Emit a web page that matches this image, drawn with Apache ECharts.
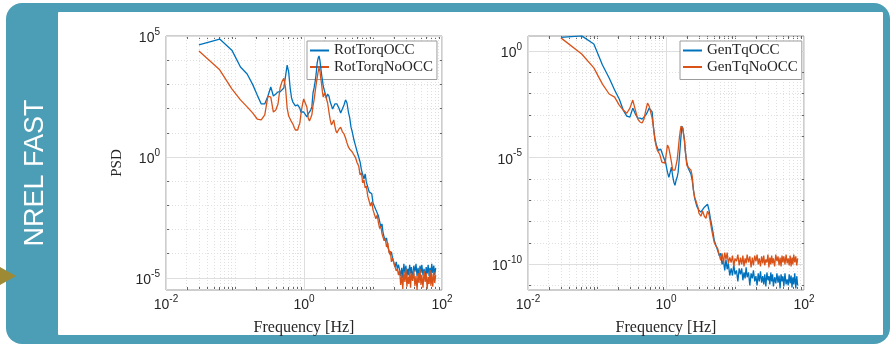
<!DOCTYPE html>
<html><head><meta charset="utf-8">
<script src="https://cdn.jsdelivr.net/npm/echarts@6/dist/echarts.min.js"></script>
<style>html,body{margin:0;padding:0;background:#fff}#c{width:893px;height:346px}</style>
</head><body><div id="c"></div><script>
// Frequency grid [Hz], shared by all four PSD curves
const freqHz = [
 0.03,0.06,0.09,0.12,0.15,0.18,0.21,0.24,0.27,0.30,0.33,0.36,0.39,0.42,0.45,0.48,0.51,0.54,0.57,0.60,0.63,0.66,0.69,0.72,0.75,0.78,0.81,0.84,0.87,0.90,0.93,0.96,0.99,
 1.05,1.1,1.15,1.2,1.25,1.3,1.35,1.4,1.45,1.5,1.55,1.6,1.65,1.7,1.75,1.8,1.85,1.9,
 2.0,2.1,2.2,2.3,2.4,2.5,2.6,2.7,2.8,2.9,3.0,
 3.2,3.4,3.6,3.8,4.0,4.2,4.4,4.6,4.8,5.0,
 5.3,5.6,5.9,6.2,6.5,6.8,7.1,7.4,7.7,8.0,
 8.4,8.8,9.2,9.6,10,
 10.5,11,11.5,12,12.5,13,13.5,14,14.5,15,
 15.7,16.4,17.1,17.8,18.5,19.3,20.1,20.9,21.7,22.5,23.4,
 24.3,25.2,26.1,27,28,29,30,31,32,33,34,35,36,
 37.5,39,40.5,42,43.5,45,46.5,48,49.5,51,
 53,55,57,59,61,63,65,67,69,71,
 73.5,76,78.5,81
];
const rotTorqOCC = [
 4.3e4,7.5e4,2.6e4,5.2e3,2.7e3,1.0e3,360,155,155,330,780,330,400,490,490,440,710,2.2e3,6.3e3,3.2e3,710,275,186,170,129,117,141,141,105,72,66,87,72,
 60,45,60,72,87,117,440,710,1.3e3,2.7e3,7.6e3,1.2e4,1.5e4,1.0e4,4.8e3,2.5e3,1.5e3,850,
 490,275,400,330,186,155,96,105,155,186,155,
 105,66,79,141,230,170,72,41,17,11,
 5.0,2.8,1.6,1.0,0.62,0.29,0.29,0.123,0.199,0.093,
 0.084,0.036,0.033,0.030,0.0126,
 0.0138,0.0065,0.0078,0.0036,0.0030,0.0013,0.0017,7.2e-4,8.0e-4,3.4e-4,
 4.5e-4,1.9e-4,1.7e-4,8.9e-5,1.2e-4,6.1e-5,6.7e-5,2.8e-5,4.6e-5,2.4e-5,3.5e-5,
 3.5e-5,1.2e-5,2.6e-5,1.0e-5,3.8e-5,1.6e-5,3.2e-5,1.1e-5,2.4e-5,1.3e-5,3.5e-5,1.5e-5,2.8e-5,
 9.1e-6,3.2e-5,1.8e-5,3.8e-5,1.2e-5,2.6e-5,1.1e-5,3.2e-5,1.6e-5,3.5e-5,
 1.3e-5,2.4e-5,1.0e-5,2.8e-5,1.5e-5,3.5e-5,1.2e-5,2.6e-5,1.1e-5,3.8e-5,
 1.6e-5,3.2e-5,1.3e-5,2.6e-5
];
const rotTorqNoOCC = [
 2.4e4,4.0e3,650,230,117,66,37,34,55,330,300,72,87,155,710,1.3e3,1.8e3,710,105,49,37,28,23,17,13,11,13,19,25,55,105,170,250,
 300,117,41,31,41,55,129,230,490,1.0e3,1.8e3,3.2e3,4.8e3,3.6e3,1.8e3,1.0e3,490,300,
 440,490,170,72,34,21,19,34,19,12,9.8,
 14,17,11,8.9,6.1,3.8,2.6,2.1,1.8,1.6,
 1.2,0.91,0.56,0.43,0.18,0.22,0.084,0.112,0.052,0.063,
 0.024,0.022,0.0094,0.0138,0.0065,
 0.0065,0.0028,0.0040,0.0019,0.0011,0.0014,6.6e-4,6.6e-4,3.4e-4,4.5e-4,
 1.9e-4,2.8e-4,1.07e-4,1.3e-4,4.6e-5,6.7e-5,4.2e-5,4.6e-5,1.95e-5,2.4e-5,1.3e-5,
 2.1e-5,5.1e-6,1.3e-5,3.5e-6,1.8e-5,6.8e-6,2.4e-5,4.3e-6,1.1e-5,5.6e-6,1.95e-5,3.9e-6,1.5e-5,
 7.5e-6,2.1e-5,4.7e-6,1.2e-5,3.2e-6,1.6e-5,6.2e-6,2.4e-5,5.1e-6,1.3e-5,
 3.9e-6,1.95e-5,6.8e-6,1.6e-5,3.5e-6,1.1e-5,5.6e-6,2.1e-5,4.7e-6,1.5e-5,
 4.3e-6,1.8e-5,6.2e-6,1.3e-5
];
const genTqOCC = [
 4.3,5.1,2.1,0.22,0.054,0.0148,0.0056,0.0017,8.9e-4,7.9e-4,0.0021,0.0011,7.1e-4,7.1e-4,6.4e-4,7.9e-4,1.0e-3,0.0014,0.0021,0.0026,0.0014,2.4e-4,8.3e-5,4.3e-5,2.8e-5,2.2e-5,2.0e-5,2.5e-5,1.8e-5,1.3e-5,9.5e-6,7.6e-6,5.5e-6,
 2.1e-6,1.2e-6,2.1e-6,3.6e-6,1.35e-6,7.1e-7,5.1e-7,8.7e-7,1.2e-6,2.1e-6,7.6e-6,2.8e-5,1.0e-4,3.0e-4,2.4e-4,1.26e-4,6.6e-5,2.2e-5,
 6.2e-6,3.2e-6,2.6e-6,1.7e-6,8.7e-7,3.0e-7,1.26e-7,8.1e-8,5.2e-8,4.3e-8,3.5e-8,
 2.8e-8,2.8e-8,4.8e-8,5.2e-8,6.6e-8,3.5e-8,1.45e-8,6.8e-9,3.2e-9,1.35e-9,
 7.8e-10,4.6e-10,2.6e-10,3.3e-10,1.0e-10,1.55e-10,5.2e-11,1.7e-10,5.9e-11,1.12e-10,
 3.0e-11,6.5e-11,3.0e-11,1.0e-10,3.4e-11,
 5.2e-11,1.6e-11,6.5e-11,3.4e-11,6.5e-11,1.8e-11,4.2e-11,2.2e-11,7.2e-11,2.5e-11,
 4.2e-11,1.03e-11,3.8e-11,2.2e-11,5.2e-11,1.6e-11,2.8e-11,1.03e-11,3.8e-11,1.6e-11,4.7e-11,
 1.4e-11,2.8e-11,1.15e-11,3.4e-11,9.3e-12,4.2e-11,1.8e-11,2.8e-11,1.15e-11,4.2e-11,1.6e-11,3.4e-11,9.3e-12,
 2.5e-11,1.3e-11,3.8e-11,1.4e-11,3.0e-11,7.4e-12,3.4e-11,1.6e-11,2.8e-11,9.3e-12,
 3.8e-11,1.15e-11,2.0e-11,1.03e-11,3.4e-11,1.3e-11,3.0e-11,8.3e-12,2.5e-11,1.15e-11,
 3.8e-11,7.4e-12,2.8e-11,1.03e-11
];
const genTqNoOCC = [
 4.1,0.72,0.16,0.028,0.0096,0.0069,0.0029,0.0017,0.0012,0.0021,0.0050,0.0017,6.4e-4,4.7e-4,4.2e-4,6.4e-4,0.0017,0.0036,0.0026,0.0021,7.1e-4,2.4e-4,6.6e-5,3.5e-5,2.2e-5,1.8e-5,1.45e-5,9.5e-6,6.2e-6,5.5e-6,7.6e-6,5.5e-6,9.5e-6,
 3.9e-5,2.8e-5,1.3e-5,6.2e-6,2.6e-6,2.1e-6,2.6e-6,3.2e-6,7.6e-6,2.2e-5,6.6e-5,1.6e-4,3.0e-4,3.7e-4,2.4e-4,1.15e-4,6.6e-5,2.2e-5,
 4.5e-6,3.6e-6,4.0e-6,2.6e-6,1.35e-6,3.0e-7,1.4e-7,1.0e-7,8.1e-8,4.8e-8,2.5e-8,
 1.8e-8,3.1e-8,1.8e-8,1.45e-8,3.1e-8,2.2e-8,9.3e-9,4.0e-9,2.0e-9,1.07e-9,
 7.1e-10,5.6e-10,4.6e-10,1.55e-10,3.3e-10,1.12e-10,3.6e-10,1.7e-10,3.6e-10,1.12e-10,
 2.1e-10,1.23e-10,2.6e-10,8.1e-11,1.9e-10,
 1.4e-10,2.9e-10,9.0e-11,2.1e-10,1.0e-10,2.6e-10,8.1e-11,1.9e-10,1.12e-10,2.9e-10,
 1.23e-10,2.4e-10,7.2e-11,2.1e-10,9.0e-11,2.6e-10,1.4e-10,2.9e-10,1.0e-10,1.9e-10,8.1e-11,
 2.4e-10,1.12e-10,2.6e-10,9.0e-11,1.7e-10,1.23e-10,2.9e-10,7.2e-11,2.1e-10,1.0e-10,2.6e-10,1.12e-10,1.9e-10,
 8.1e-11,2.9e-10,1.4e-10,2.4e-10,9.0e-11,2.1e-10,8.1e-11,2.6e-10,1.23e-10,2.4e-10,
 1.0e-10,2.9e-10,1.12e-10,1.9e-10,9.0e-11,2.6e-10,8.1e-11,2.1e-10,1.0e-10,2.9e-10,
 1.23e-10,2.4e-10,9.0e-11,1.9e-10
];
// tick exponents (labels are 10^n)
const xTickExp = [-2, 0, 2];
const yTickExpLeft = [-5, 0, 5];
const yTickExpRight = [-10, -5, 0];
const seriesNamesLeft = ['RotTorqOCC', 'RotTorqNoOCC'];
const seriesNamesRight = ['GenTqOCC', 'GenTqNoOCC'];

const SERIF = 'Liberation Serif, Times New Roman, serif';
const SANS = 'Liberation Sans, Arial, Helvetica, sans-serif';
const INK = '#262626', BOX = '#9c9c9c', TEAL = '#4c9eb6', GOLD = '#9e8a35';
const BLUE = '#0072BD', ORANGE = '#D95319';

const toPts = vals => freqHz.map((f, i) => [Math.log10(f), Math.log10(vals[i])]);
const pow10 = v => '{b|10}{s|' + v + '}';
const rich = {
  b: {fontFamily: SANS, fontSize: 14, color: INK, lineHeight: 18, verticalAlign: 'bottom'},
  s: {fontFamily: SANS, fontSize: 10, color: INK, lineHeight: 9, verticalAlign: 'top'}
};
function xMinor() {
  const out = [];
  for (let d = -2; d < 2; d++) for (let k = 1; k < 10; k++) {
    const v = d + Math.log10(k);
    if (!xTickExp.includes(v)) out.push(v);
  }
  return out;
}
function yMinor(lo, hi, majors) {
  const out = [];
  for (let v = Math.ceil(lo); v <= Math.floor(hi); v++) if (!majors.includes(v)) out.push(v);
  return out;
}
const L = {ymin: -5.5, ymax: 5};
const R = {ymin: -11.2, ymax: 0.7};
const yMinL = yMinor(L.ymin, L.ymax, yTickExpLeft);
const yMinR = yMinor(R.ymin, R.ymax, yTickExpRight);
const xMin = xMinor();

const majStyle = {color: '#dedede', width: 1, type: 'solid'};
const minStyle = {color: '#e0e0e0', width: 1, type: [1, 2]};
function gridSeries(xi, yi, yMaj, yMinr) {
  const data = [].concat(
    xTickExp.map(v => ({xAxis: v, lineStyle: majStyle})),
    xMin.map(v => ({xAxis: v, lineStyle: minStyle})),
    yMaj.map(v => ({yAxis: v, lineStyle: majStyle})),
    yMinr.map(v => ({yAxis: v, lineStyle: minStyle}))
  );
  return {type: 'line', xAxisIndex: xi, yAxisIndex: yi, data: [], silent: true, z: 1,
    markLine: {silent: true, symbol: ['none', 'none'], label: {show: false}, animation: false, z: 1, data}};
}
function xAx(gi, pos, withLabels) {
  return {type: 'value', gridIndex: gi, min: -2, max: 2, position: pos,
    axisLine: {show: false, onZero: false}, splitLine: {show: false},
    axisTick: {show: true, inside: true, length: 3, customValues: xTickExp.concat(xMin), lineStyle: {color: '#666'}},
    axisLabel: withLabels ? {show: true, customValues: xTickExp, formatter: pow10, rich, margin: 4} : {show: false},
    name: withLabels ? 'Frequency [Hz]' : '', nameLocation: 'middle', nameGap: 30,
    nameTextStyle: {fontFamily: SERIF, fontSize: 16, color: INK}};
}
function yAx(gi, pos, r, maj, minr, withLabels, name) {
  return {type: 'value', gridIndex: gi, min: r.ymin, max: r.ymax, position: pos,
    axisLine: {show: false, onZero: false}, splitLine: {show: false},
    axisTick: {show: true, inside: true, length: 3, customValues: maj.concat(minr), lineStyle: {color: '#666'}},
    axisLabel: withLabels ? {show: true, customValues: maj, formatter: pow10, rich, margin: 6} : {show: false},
    name: name || '', nameLocation: 'middle', nameGap: 41,
    nameTextStyle: {fontFamily: SERIF, fontSize: 15, color: INK}};
}
function lineSeries(name, vals, xi, yi, color) {
  return {type: 'line', name, data: toPts(vals), xAxisIndex: xi, yAxisIndex: yi, z: 10,
    showSymbol: false, symbol: 'none', lineStyle: {width: 1.3, color}, itemStyle: {color}, clip: true, animation: false};
}
function legendAt(left, names) {
  return {data: names, left, top: 41, orient: 'vertical', icon: 'rect', itemWidth: 19, itemHeight: 2,
    itemGap: 1.5, padding: [2, 4, 5, 3], backgroundColor: '#fff', borderColor: BOX, borderWidth: 1,
    selectedMode: false, textStyle: {fontFamily: SERIF, fontSize: 15, color: INK, lineHeight: 15}};
}

const chart = echarts.init(document.getElementById('c'));
chart.setOption({
  animation: false,
  backgroundColor: '#fff',
  graphic: [
    {type: 'rect', z: -10, shape: {x: 6, y: 3, width: 884, height: 341, r: 16}, style: {fill: TEAL}},
    {type: 'rect', z: -9, shape: {x: 58, y: 12, width: 825, height: 323, r: 1}, style: {fill: '#fff'}},
    {type: 'polygon', z: -9, shape: {points: [[0, 267], [16, 276], [0, 285]]}, style: {fill: GOLD}},
    {type: 'text', z: -8, x: 36, y: 173, rotation: Math.PI / 2,
      style: {text: 'NREL FAST', fill: '#fff', fontSize: 27, fontFamily: SANS, align: 'center', verticalAlign: 'middle'}}
  ],
  grid: [
    {left: 166, top: 36, width: 276, height: 254, show: true, borderColor: BOX, borderWidth: 1, backgroundColor: 'transparent'},
    {left: 528, top: 36, width: 276, height: 254, show: true, borderColor: BOX, borderWidth: 1, backgroundColor: 'transparent'}
  ],
  xAxis: [xAx(0, 'bottom', true), xAx(0, 'top', false), xAx(1, 'bottom', true), xAx(1, 'top', false)],
  yAxis: [
    yAx(0, 'left', L, yTickExpLeft, yMinL, true, 'PSD'), yAx(0, 'right', L, yTickExpLeft, yMinL, false),
    yAx(1, 'left', R, yTickExpRight, yMinR, true), yAx(1, 'right', R, yTickExpRight, yMinR, false)
  ],
  legend: [legendAt(307, seriesNamesLeft), legendAt(680, seriesNamesRight)],
  series: [
    gridSeries(0, 0, yTickExpLeft, yMinL),
    gridSeries(2, 2, yTickExpRight, yMinR),
    lineSeries(seriesNamesLeft[0], rotTorqOCC, 0, 0, BLUE),
    lineSeries(seriesNamesLeft[1], rotTorqNoOCC, 0, 0, ORANGE),
    lineSeries(seriesNamesRight[0], genTqOCC, 2, 2, BLUE),
    lineSeries(seriesNamesRight[1], genTqNoOCC, 2, 2, ORANGE)
  ]
});
</script></body></html>
